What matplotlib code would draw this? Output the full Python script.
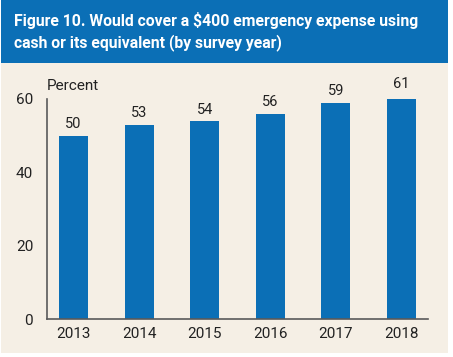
import matplotlib.pyplot as plt
from matplotlib.patches import Rectangle

years = ['2013', '2014', '2015', '2016', '2017', '2018']
percent = [50, 53, 54, 56, 59, 61]
yticks = [0, 20, 40, 60]

title = 'Figure 10. Would cover a $400 emergency expense using\ncash or its equivalent (by survey year)'

blue = '#0b6fb6'
cream = '#f5efe5'
plt.rcParams['font.family'] = ['Roboto', 'DejaVu Sans']

fig = plt.figure(figsize=(4.53, 3.57), dpi=100)
fig.patch.set_facecolor('white')
# cream panel and blue header band
fig.add_artist(Rectangle((0.002, 0.012), 0.987, 0.812, transform=fig.transFigure,
                         facecolor=cream, edgecolor='none', zorder=0))
fig.add_artist(Rectangle((0.002, 0.823), 0.987, 0.177, transform=fig.transFigure,
                         facecolor=blue, edgecolor='none', zorder=0))
fig.text(0.031, 0.911, title, color='white', fontsize=11.3, fontweight='bold',
         va='center', ha='left', linespacing=1.4)

ax = fig.add_axes([0.1038, 0.1064, 0.841, 0.6163])
ax.set_facecolor('none')
x = range(len(years))
bars = ax.bar(x, percent, width=0.44, color=blue, zorder=2)
for xi, v in zip(x, percent):
    ax.text(xi, v + 1.2, str(v), ha='center', va='bottom', fontsize=10.5, color='#222222')

ax.set_xlim(-0.404, 5.404)
ax.set_ylim(0, 60)
ax.set_yticks(yticks)
ax.set_xticks(list(x))
ax.set_xticklabels(years)
ax.tick_params(axis='both', length=0, labelsize=11, colors='#222222')
ax.tick_params(axis='y', pad=10)
ax.tick_params(axis='x', pad=6)
for s in ['top', 'right']:
    ax.spines[s].set_visible(False)
for s in ['left', 'bottom']:
    ax.spines[s].set_color('#5a5a5a')
    ax.spines[s].set_linewidth(1.2)
ax.text(0.0, 1.025, 'Percent', transform=ax.transAxes, ha='left', va='bottom',
        fontsize=11, color='#222222')

fig.savefig('out.png', dpi=100, facecolor=fig.get_facecolor())
